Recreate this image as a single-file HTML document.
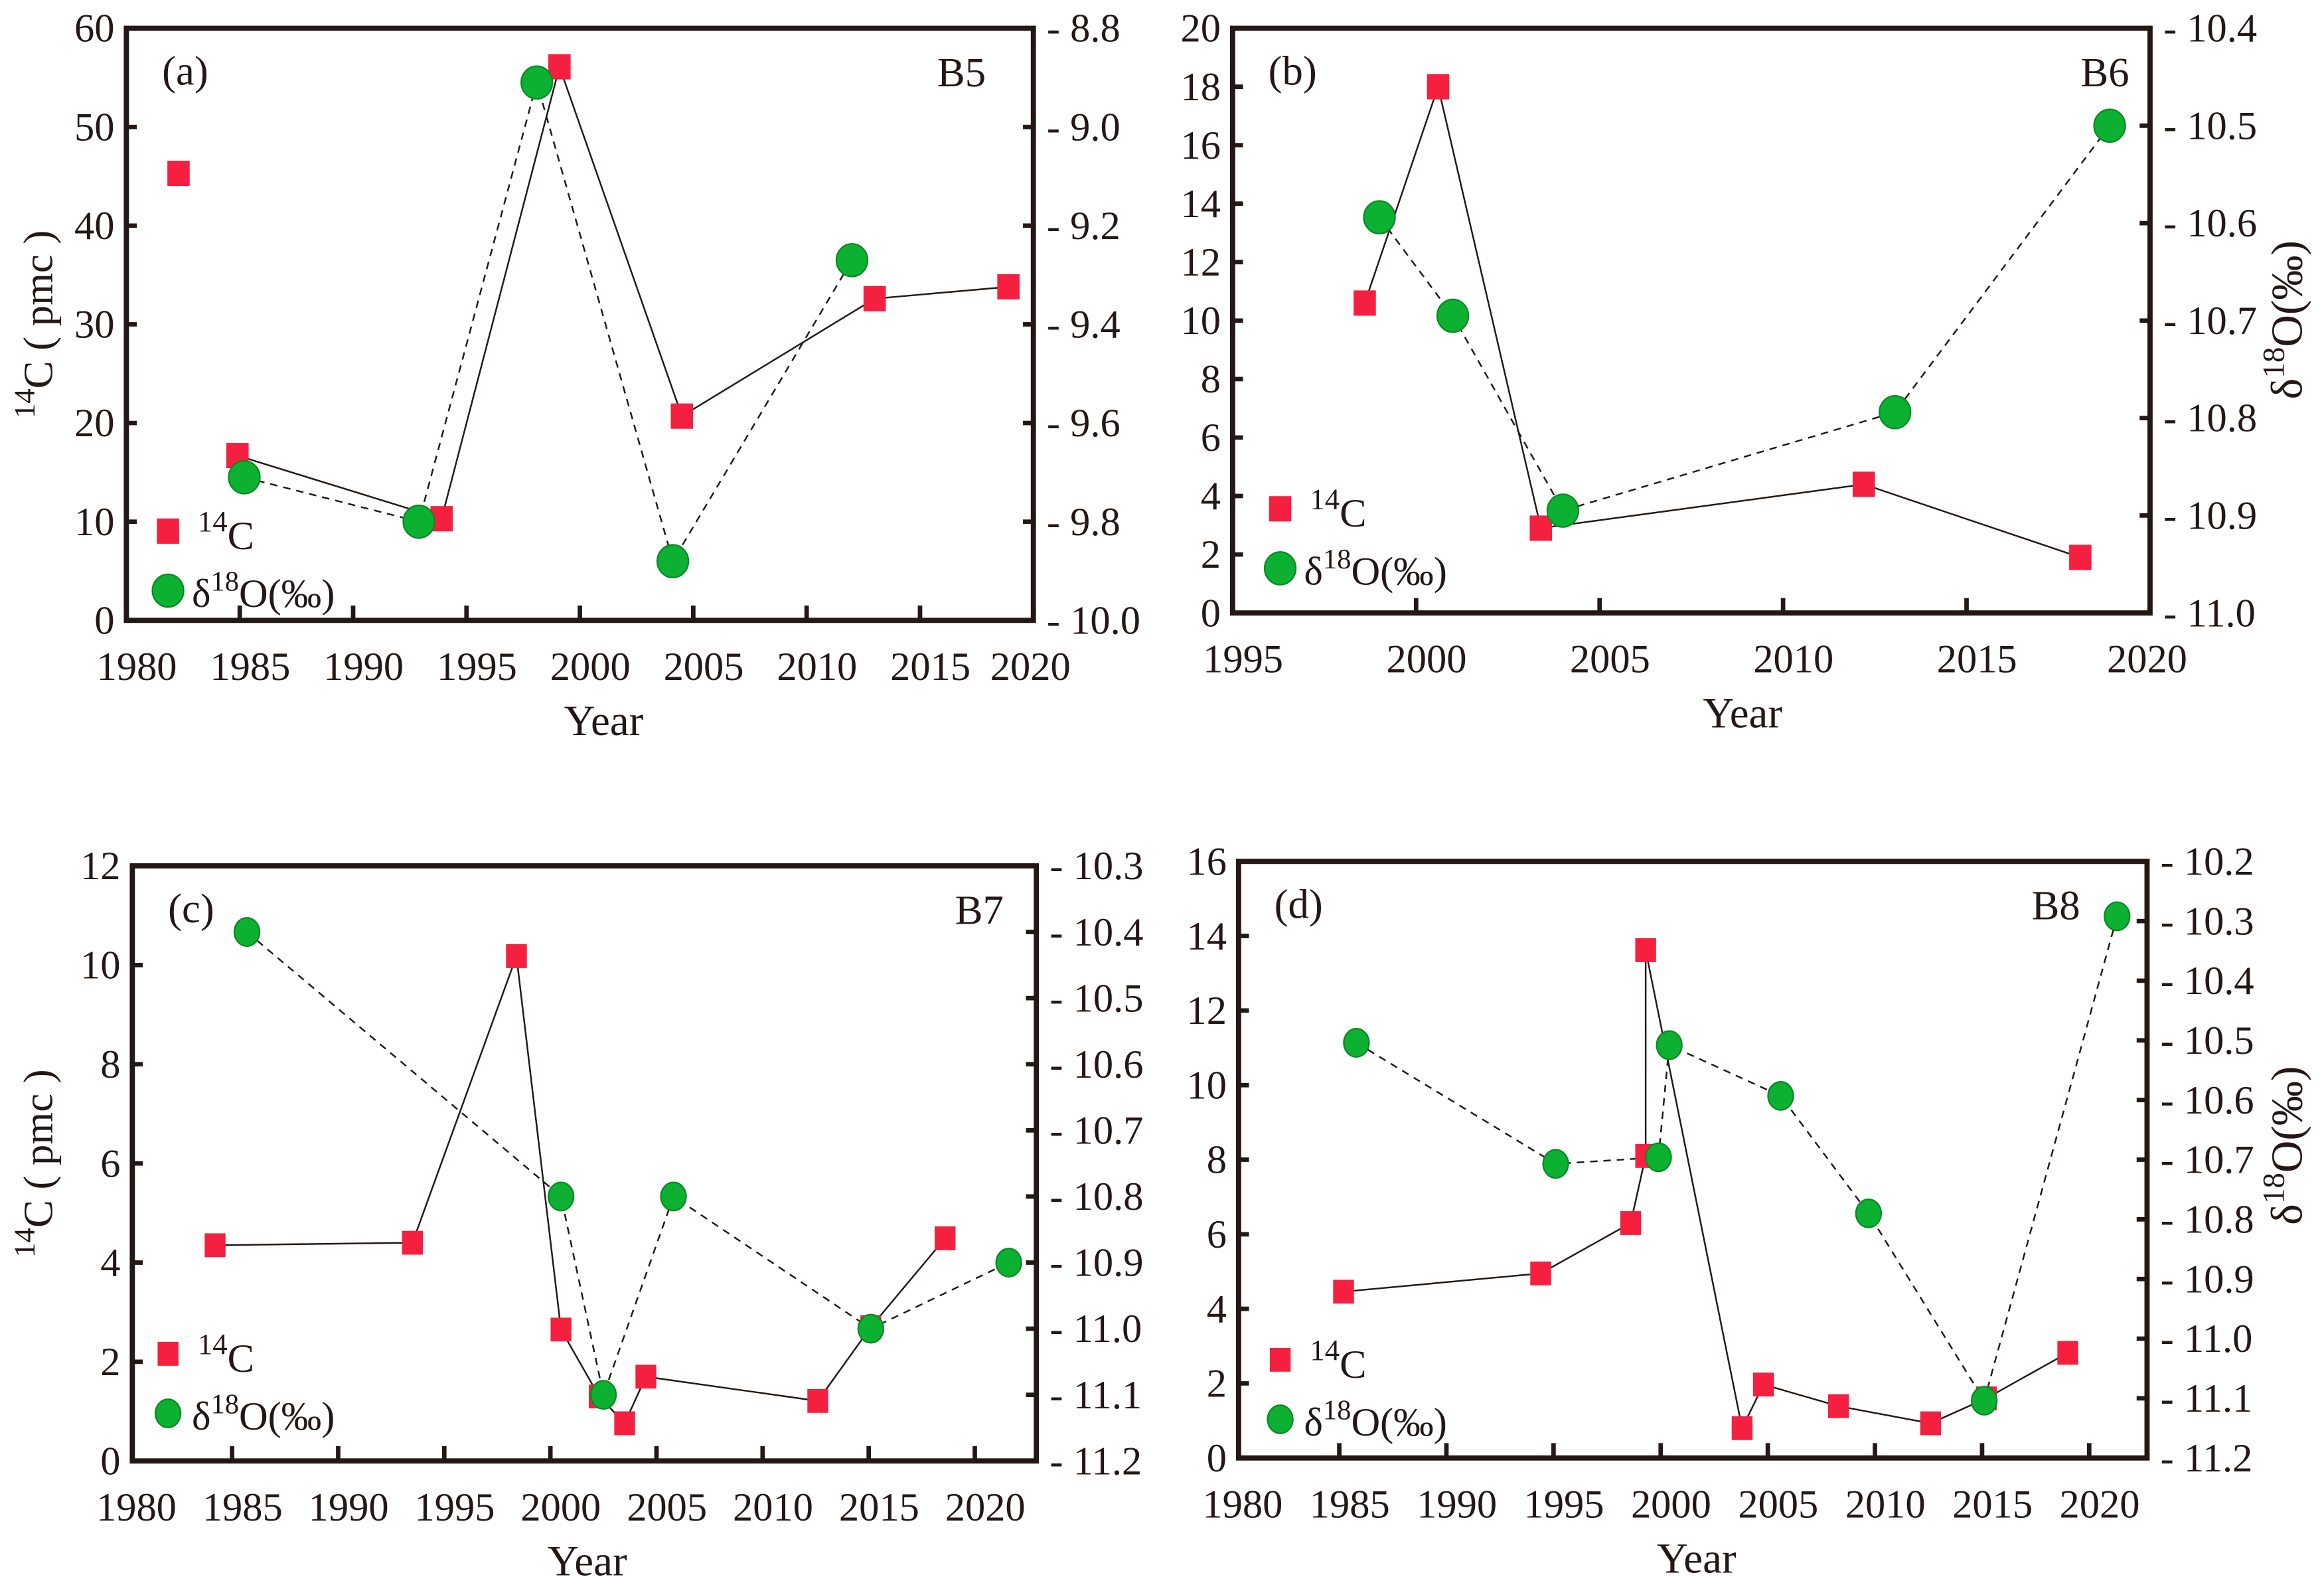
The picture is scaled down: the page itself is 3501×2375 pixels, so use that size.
<!DOCTYPE html>
<html><head><meta charset="utf-8"><style>
html,body{margin:0;padding:0;background:#fff}
svg{display:block}
text{font-family:"Liberation Serif",serif;fill:#231815}
</style></head><body>
<svg id="chart" xmlns="http://www.w3.org/2000/svg" width="3501" height="2375" viewBox="0 0 1563 1060" preserveAspectRatio="none"></svg>
<script>
// Panel (a) B5
const aC14Years=[1982.3,1984.9,1993.9,1999.1,2004.5,2013.0,2018.9];
const aC14Vals=[45.3,16.7,10.3,56.1,20.7,32.6,33.8];
const aO18Years=[1985.2,1992.9,1998.1,2004.1,2012.0];
const aO18Vals=[-9.71,-9.80,-8.91,-9.88,-9.27];
// Panel (b) B6
const bC14Years=[1998.6,2000.6,2003.4,2012.2,2018.1];
const bC14Vals=[10.6,18.0,2.9,4.4,1.9];
const bO18Years=[1999.0,2001.0,2004.0,2013.05,2018.9];
const bO18Vals=[-10.594,-10.695,-10.895,-10.794,-10.50];
// Panel (c) B7
const cC14Years=[1984.2,1993.5,1998.4,2000.5,2002.3,2003.5,2004.5,2012.6,2015.1,2018.6];
const cC14Vals=[4.35,4.4,10.18,2.65,1.3,0.76,1.7,1.21,2.7,4.49];
const cO18Years=[1985.7,2000.5,2002.5,2005.8,2015.1,2021.6];
const cO18Vals=[-10.40,-10.80,-11.10,-10.80,-11.00,-10.90];
// Panel (d) B8
const dC14Years=[1985.2,1994.4,1998.6,1999.3,1999.3,2003.8,2004.8,2008.3,2012.6,2015.2,2019.0];
const dC14Vals=[4.46,4.95,6.3,8.1,13.62,0.8,1.97,1.39,0.93,1.6,2.82];
const dO18Years=[1985.8,1995.1,1999.9,2000.4,2005.6,2009.7,2015.1,2021.3];
const dO18Vals=[-10.504,-10.707,-10.696,-10.508,-10.593,-10.79,-11.104,-10.292];
// tick labels
const aLeftTicks=[0,10,20,30,40,50,60];
const aRightTicks=["8.8","9.0","9.2","9.4","9.6","9.8","10.0"];
const bLeftTicks=[0,2,4,6,8,10,12,14,16,18,20];
const bRightTicks=["10.4","10.5","10.6","10.7","10.8","10.9","11.0"];
const cLeftTicks=[0,2,4,6,8,10,12];
const cRightTicks=["10.3","10.4","10.5","10.6","10.7","10.8","10.9","11.0","11.1","11.2"];
const dLeftTicks=[0,2,4,6,8,10,12,14,16];
const dRightTicks=["10.2","10.3","10.4","10.5","10.6","10.7","10.8","10.9","11.0","11.1","11.2"];
const abcdXTicks=[1980,1985,1990,1995,2000,2005,2010,2015,2020];
const bXTicks=[1995,2000,2005,2010,2015,2020];

const NS="http://www.w3.org/2000/svg";
const svg=document.getElementById('chart');
function mk(tag,attrs,parent){const e=document.createElementNS(NS,tag);for(const k in attrs)e.setAttribute(k,attrs[k]);(parent||svg).appendChild(e);return e;}

function panel(p){
  const g=mk('g',{});
  
  
  const X=v=>p.L+(v-p.x0)/(p.x1-p.x0)*(p.R-p.L);
  const YL=v=>p.B-(v-p.y0)/(p.y1-p.y0)*(p.B-p.T);
  const YR=v=>p.B-(v-p.r0)/(p.r1-p.r0)*(p.B-p.T);
  p.xt.forEach(v=>{
    const x=X(v);
    if(x>p.L+3&&x<p.R-3){const t=mk('line',{x1:x,x2:x,y1:p.B,y2:p.B-10,stroke:'#231815','stroke-width':3},g);
      }
    const lb=mk('text',{x:Math.min(x+7,p.R-2),y:p.B+40,'text-anchor':'middle','font-size':27},g);
    lb.textContent=v;
    
  });
  p.lt.forEach(v=>{
    const y=YL(v);
    if(y>p.T+3&&y<p.B-3){const t=mk('line',{x1:p.L,x2:p.L+7,y1:y,y2:y,stroke:'#231815','stroke-width':3},g);
      }
    const lb=mk('text',{x:p.L-8,y:y+9,'text-anchor':'end','font-size':27},g);
    lb.textContent=v;
    
  });
  p.rt.forEach((s,i)=>{
    const v=p.r1-(p.r1-p.r0)*i/(p.rt.length-1);
    const y=YR(v);
    if(y>p.T+3&&y<p.B-3){const t=mk('line',{x1:p.R-7,x2:p.R,y1:y,y2:y,stroke:'#231815','stroke-width':3},g);
      }
    const lb=mk('text',{x:p.R+9,y:y+9,'font-size':27},g);
    lb.textContent='- '+s;
    
  });
  const fr=mk('rect',{x:p.L,y:p.T,width:p.R-p.L,height:p.B-p.T,fill:'none',stroke:'#231815','stroke-width':3.5},g);
  
  const cp=p.cy.map((y,i)=>X(y)+','+YL(p.cv[i])).slice(p.cStart||0).join(' ');
  const cl=mk('polyline',{points:cp,fill:'none',stroke:'#231815','stroke-width':1.1},g);
  
  const op=p.oy.map((y,i)=>X(y)+','+YR(p.ov[i])).join(' ');
  const ol=mk('polyline',{points:op,fill:'none',stroke:'#231815','stroke-width':1.1,'stroke-dasharray':'5,4'},g);
  
  p.cy.forEach((y,i)=>{
    const s=mk('rect',{x:X(y)-p.sq/2,y:YL(p.cv[i])-p.sq/2-1,width:p.sq,height:p.sq+2,fill:'#f5203f'},g);
    
  });
  p.oy.forEach((y,i)=>{
    const c=mk('ellipse',{cx:X(y),cy:YR(p.ov[i]),rx:p.rx,ry:p.ry,fill:'#0cb132',stroke:'#078a22','stroke-width':1},g);
    
  });
  const ls=mk('rect',{x:p.lg[0]-p.sq/2,y:p.lg[1]-p.sq/2-1,width:p.sq,height:p.sq+2,fill:'#f5203f'},g);
  
  const lt=mk('text',{x:p.lg[0]+20,y:p.lg[1]+12,'font-size':27},g);
  lt.innerHTML='<tspan dy="-12" font-size="20">14</tspan><tspan dy="12">C</tspan>';
  
  const lc=mk('ellipse',{cx:p.lg[0],cy:p.lg[1]+40,rx:p.rx,ry:p.ry,fill:'#0cb132',stroke:'#078a22','stroke-width':1},g);
  
  const lo=mk('text',{x:p.lg[0]+16,y:p.lg[1]+51,'font-size':27},g);
  lo.innerHTML='δ<tspan dy="-11" font-size="19">18</tspan><tspan dy="11">O(‰)</tspan>';
  
  const pl=mk('text',{x:p.L+24,y:p.T+38,'font-size':28},g);
  pl.textContent='('+p.id+')';
  
  const wl=mk('text',{x:p.R-p.wOff,y:p.T+39,'font-size':28,'text-anchor':'end'},g);
  wl.textContent=p.well;
  
  const xl=mk('text',{x:p.yearX,y:p.B+77,'font-size':29,'text-anchor':'middle'},g);
  xl.textContent='Year';
  
  if(p.leftTitle){
    const yt=mk('text',{x:0,y:0,'font-size':28,'text-anchor':'middle',transform:`translate(35,${(p.T+p.B)/2}) rotate(-90)`},g);
    yt.innerHTML='<tspan dy="-12" font-size="20">14</tspan><tspan dy="12">C ( pmc )</tspan>';
    
  }
  if(p.rightTitle){
    const rt=mk('text',{x:0,y:0,'font-size':30,'text-anchor':'middle',transform:`translate(1548,${p.rtY}) rotate(-90)`},g);
    rt.innerHTML='δ<tspan dy="-12" font-size="21">18</tspan><tspan dy="12">O(‰)</tspan>';
    
  }
}
panel({id:'a',well:'B5',wOff:32,L:85,R:695,T:19,B:417,x0:1980,x1:2020,y0:0,y1:60,r0:-10.0,r1:-8.8,
  xt:abcdXTicks,lt:aLeftTicks,rt:aRightTicks,cy:aC14Years,cv:aC14Vals,oy:aO18Years,ov:aO18Vals,cStart:1,
  sq:15,rx:10.5,ry:11,lg:[113,357],yearX:406,leftTitle:true});
panel({id:'b',well:'B6',wOff:14,L:829,R:1446,T:19,B:412,x0:1995,x1:2020,y0:0,y1:20,r0:-11.0,r1:-10.4,
  xt:bXTicks,lt:bLeftTicks,rt:bRightTicks,cy:bC14Years,cv:bC14Vals,oy:bO18Years,ov:bO18Vals,
  sq:15,rx:10.5,ry:11,lg:[861,342],yearX:1172,rightTitle:true,rtY:215});
panel({id:'c',well:'B7',wOff:22,L:89,R:697,T:582,B:982,x0:1980.3,x1:2022.9,y0:0,y1:12,r0:-11.2,r1:-10.3,
  xt:abcdXTicks,lt:cLeftTicks,rt:cRightTicks,cy:cC14Years,cv:cC14Vals,oy:cO18Years,ov:cO18Vals,
  sq:14,rx:8.5,ry:9.5,lg:[113,910],yearX:395,leftTitle:true});
panel({id:'d',well:'B8',wOff:45,L:833,R:1444,T:579,B:980,x0:1980.3,x1:2022.7,y0:0,y1:16,r0:-11.2,r1:-10.2,
  xt:abcdXTicks,lt:dLeftTicks,rt:dRightTicks,cy:dC14Years,cv:dC14Vals,oy:dO18Years,ov:dO18Vals,
  sq:14,rx:8.5,ry:9.5,lg:[861,914],yearX:1141,rightTitle:true,rtY:770});
</script>
</body></html>
